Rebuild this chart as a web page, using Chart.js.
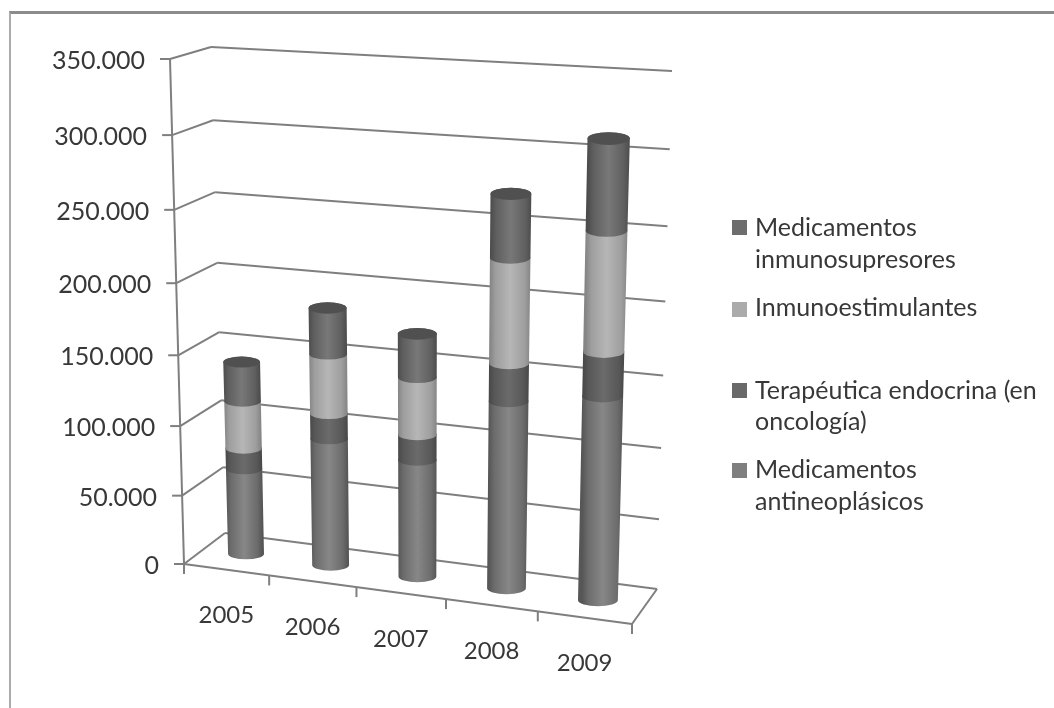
<!DOCTYPE html>
<html>
<head>
<meta charset="utf-8">
<title>Medicamentos</title>
<script src="https://cdn.jsdelivr.net/npm/chart.js@4"></script>
<style>
    html, body { margin: 0; padding: 0; background: #fff; overflow: hidden; }
    #frame { position: absolute; left: 9px; top: 11px; width: 1045px; height: 697px;
             border-top: 3px solid #8c8c8c; border-left: 2px solid #ababab; box-sizing: border-box; }
    #chart { position: absolute; left: 0; top: 0; filter: blur(0.5px); }
</style>
</head>
<body>
<div id="frame"></div>
<canvas id="chart" width="1054" height="708"></canvas>
<script>
const years = ['2005', '2006', '2007', '2008', '2009'];
const tickLabels = ['0', '50.000', '100.000', '150.000', '200.000', '250.000', '300.000', '350.000'];

const antineoplasicos = [63000, 92000, 84000, 132000, 142000];
const endocrina = [15000, 18000, 18000, 26000, 30000];
const inmunoestimulantes = [34000, 42000, 40000, 71000, 80000];
const inmunosupresores = [28000, 32000, 30000, 42000, 59000];

const legendAntineo = ['Medicamentos', 'antineoplásicos'];
const legendEndocrina = ['Terapéutica endocrina (en', 'oncología)'];
const legendEstimul = ['Inmunoestimulantes'];
const legendSupres = ['Medicamentos', 'inmunosupresores'];

// corners of the 3D box as it appears on the page
const backWall = { tl: [211, 47], tr: [672, 71], br: [657, 589], bl: [225, 533] };
const frontWall = { tl: [170, 59], tr: [648, 88], br: [632, 624], bl: [184, 564] };

const TEXT = '#383838';
const LINE = '#7f7f7f';
const FONT = '25px Lato';
const X_FONT = '24px Lato';

// unit square -> quad, (u right, v up)
function quadMap(q) {
    const [x0, y0] = q.bl, [x1, y1] = q.br, [x2, y2] = q.tr, [x3, y3] = q.tl;
    const dx1 = x1 - x2, dx2 = x3 - x2, sx = x0 - x1 + x2 - x3;
    const dy1 = y1 - y2, dy2 = y3 - y2, sy = y0 - y1 + y2 - y3;
    const den = dx1 * dy2 - dx2 * dy1;
    const g = (sx * dy2 - dx2 * sy) / den;
    const h = (dx1 * sy - sx * dy1) / den;
    const a = x1 - x0 + g * x1, b = x3 - x0 + h * x3;
    const d = y1 - y0 + g * y1, e = y3 - y0 + h * y3;
    return (u, v) => {
        const w = g * u + h * v + 1;
        return [(a * u + b * v + x0) / w, (d * u + e * v + y0) / w];
    };
}
const toBack = quadMap(backWall);
const toFront = quadMap(frontWall);

// depth 0 = front edge of the floor, 1 = back wall
function project(u, v, depth) {
    const f = toFront(u, v), b = toBack(u, v);
    return [f[0] + (b[0] - f[0]) * depth, f[1] + (b[1] - f[1]) * depth];
}

function segment(ctx, p1, p2) {
    ctx.beginPath();
    ctx.moveTo(p1[0], p1[1]);
    ctx.lineTo(p2[0], p2[1]);
    ctx.stroke();
}

function drawBox(chart) {
    const ctx = chart.ctx, yScale = chart.scales.y, xScale = chart.scales.x, area = chart.chartArea;
    ctx.save();
    ctx.strokeStyle = LINE;
    ctx.lineWidth = 2;
    ctx.fillStyle = TEXT;
    ctx.font = FONT;

    // value gridlines over the side and the back wall, ticks and labels on the axis
    ctx.textAlign = 'right';
    ctx.textBaseline = 'middle';
    yScale.ticks.forEach(tick => {
        const v = (area.bottom - yScale.getPixelForValue(tick.value)) / area.height;
        const front = project(0, v, 0);
        segment(ctx, [front[0] - 10, front[1]], front);
        segment(ctx, front, project(0, v, 1));
        segment(ctx, project(0, v, 1), project(1, v, 1));
        ctx.fillText(tick.label, front[0] - 25, front[1] + 2);
    });
    segment(ctx, project(0, 0, 0), project(0, 1, 0));

    // floor
    segment(ctx, project(0, 0, 0), project(1, 0, 0));
    segment(ctx, project(1, 0, 0), project(1, 0, 1));

    // category ticks and labels along the front edge
    ctx.font = X_FONT;
    ctx.textAlign = 'center';
    years.forEach((label, i) => {
        const step = area.width / years.length;
        const centre = (xScale.getPixelForValue(i) - area.left) / area.width;
        const tickP = project((xScale.getPixelForValue(i) + step / 2 - area.left) / area.width, 0, 0);
        segment(ctx, tickP, [tickP[0], tickP[1] + 10]);
        const labelP = project(centre, 0, 0);
        ctx.fillText(label, labelP[0], labelP[1] + 46);
    });
    const start = project(0, 0, 0);
    segment(ctx, start, [start[0], start[1] + 10]);
    ctx.restore();
}

function drawCylinders(chart) {
    const ctx = chart.ctx, area = chart.chartArea;
    const toU = x => (x - area.left) / area.width;
    const toV = y => (area.bottom - y) / area.height;
    const last = chart.data.datasets.length - 1;

    years.forEach((year, j) => {
        chart.data.datasets.forEach((ds, i) => {
            const bar = chart.getDatasetMeta(i).data[j];
            const half = bar.width / 2;
            const lowL = project(toU(bar.x - half), toV(bar.base), 0.5);
            const lowR = project(toU(bar.x + half), toV(bar.base), 0.5);
            const upL = project(toU(bar.x - half), toV(bar.y), 0.5);
            const upR = project(toU(bar.x + half), toV(bar.y), 0.5);
            const lowC = [(lowL[0] + lowR[0]) / 2, (lowL[1] + lowR[1]) / 2];
            const upC = [(upL[0] + upR[0]) / 2, (upL[1] + upR[1]) / 2];
            const lowRx = (lowR[0] - lowL[0]) / 2;
            const upRx = (upR[0] - upL[0]) / 2;
            const grad = ctx.createLinearGradient(upL[0], 0, upR[0], 0);
            grad.addColorStop(0, ds.shade.edge);
            grad.addColorStop(0.14, ds.shade.mid);
            grad.addColorStop(0.5, ds.shade.centre);
            grad.addColorStop(0.86, ds.shade.mid);
            grad.addColorStop(1, ds.shade.edge);

            ctx.beginPath();
            ctx.moveTo(upL[0], upC[1]);
            ctx.lineTo(lowL[0], lowC[1]);
            ctx.ellipse(lowC[0], lowC[1], lowRx, lowRx * 0.3, 0, Math.PI, 0, true);
            ctx.lineTo(upR[0], upC[1]);
            ctx.ellipse(upC[0], upC[1], upRx, upRx * 0.3, 0, 0, Math.PI, true);
            ctx.closePath();
            ctx.fillStyle = grad;
            ctx.fill();

            if (i === last) {
                ctx.beginPath();
                ctx.ellipse(upC[0], upC[1], upRx, upRx * 0.3, 0, 0, Math.PI * 2);
                ctx.fillStyle = ds.shade.cap;
                ctx.fill();
            }
        });
    });
}

function drawLegend(chart) {
    const ctx = chart.ctx;
    const rows = [
        { ds: 3, box: 220, lines: [228, 260] },
        { ds: 2, box: 302, lines: [308] },
        { ds: 1, box: 383, lines: [391, 422] },
        { ds: 0, box: 463, lines: [470, 502] }
    ];
    ctx.save();
    ctx.font = FONT;
    ctx.textAlign = 'left';
    ctx.textBaseline = 'middle';
    rows.forEach(row => {
        const ds = chart.data.datasets[row.ds];
        ctx.fillStyle = ds.backgroundColor;
        ctx.fillRect(732, row.box, 15, 15);
        ctx.fillStyle = TEXT;
        ds.label.forEach((text, k) => ctx.fillText(text, 755, row.lines[k]));
    });
    ctx.restore();
}

const box3d = {
    id: 'box3d',
    beforeDatasetsDraw(chart) {
        drawBox(chart);
        drawCylinders(chart);
        drawLegend(chart);
        return false; // flat bars are replaced by the cylinders
    }
};

new Chart(document.getElementById('chart'), {
    type: 'bar',
    data: {
        labels: years,
        datasets: [
            { label: legendAntineo, data: antineoplasicos, backgroundColor: '#7f7f7f',
              shade: { edge: '#565656', mid: '#6c6c6c', centre: '#878787' } },
            { label: legendEndocrina, data: endocrina, backgroundColor: '#696969',
              shade: { edge: '#484848', mid: '#585858', centre: '#6b6b6b' } },
            { label: legendEstimul, data: inmunoestimulantes, backgroundColor: '#ababab',
              shade: { edge: '#858585', mid: '#9e9e9e', centre: '#b6b6b6' } },
            { label: legendSupres, data: inmunosupresores, backgroundColor: '#6d6d6d',
              shade: { edge: '#4c4c4c', mid: '#5f5f5f', centre: '#787878', cap: '#505050' } }
        ]
    },
    options: {
        responsive: false,
        animation: false,
        layout: { padding: { left: 170, right: 382, top: 47, bottom: 84 } },
        datasets: { bar: { categoryPercentage: 1, barPercentage: 0.43 } },
        plugins: { legend: { display: false }, tooltip: { enabled: false } },
        scales: {
            x: { stacked: true, display: false },
            y: {
                stacked: true,
                display: false,
                min: 0,
                max: 350000,
                ticks: { stepSize: 50000, callback: (value, i) => tickLabels[i] }
            }
        }
    },
    plugins: [box3d]
});
</script>
</body>
</html>
